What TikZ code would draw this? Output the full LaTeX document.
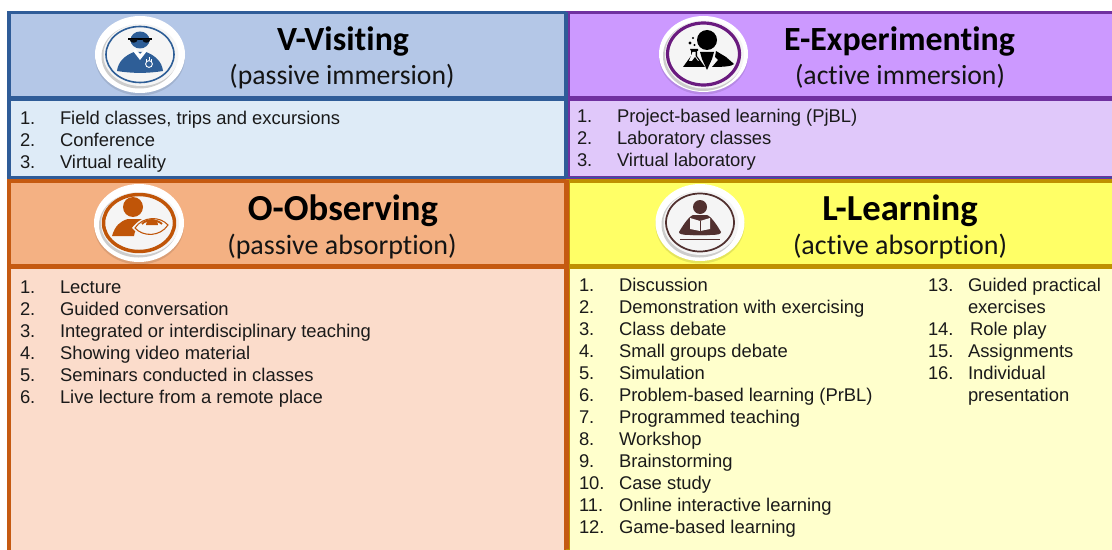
\documentclass[tikz,border=0pt]{standalone}
\usepackage{fontspec}
\setmainfont{Liberation Sans}
\newfontfamily\titlefont[Ligatures=NoCommon]{Carlito}
\definecolor{vhead}{HTML}{B4C7E7}\definecolor{vbody}{HTML}{DEEBF7}\definecolor{vline}{HTML}{2F5C98}
\definecolor{ehead}{HTML}{CC99FF}\definecolor{ebody}{HTML}{E0C8FA}\definecolor{eline}{HTML}{7030A0}
\definecolor{ohead}{HTML}{F4B183}\definecolor{obody}{HTML}{FBDCCB}\definecolor{oline}{HTML}{C55A11}
\definecolor{lhead}{HTML}{FFFF66}\definecolor{lbody}{HTML}{FFFFCC}\definecolor{lline}{HTML}{BF9000}
\definecolor{vink}{HTML}{2E5E97}\definecolor{eringc}{HTML}{6A1B7F}\definecolor{oink}{HTML}{C05508}\definecolor{link}{HTML}{51302F}
\definecolor{txt}{HTML}{1A1A1A}
\tikzset{
  panel/.style={line width=2.5pt,draw=#1},
  item/.style={anchor=base west,inner sep=0pt,outer sep=0pt,font=\fontsize{13.8pt}{16pt}\selectfont,text=txt},
  maintitle/.style={anchor=base,inner sep=0pt,font=\titlefont\bfseries\fontsize{25.4pt}{29pt}\selectfont,text=black},
  bigtitle/.style={anchor=base,inner sep=0pt,font=\titlefont\bfseries\fontsize{27.5pt}{31pt}\selectfont,text=black},
  subtitle/.style={anchor=base,inner sep=0pt,font=\titlefont\fontsize{20.8pt}{24pt}\selectfont,text=black!92},
  bigsub/.style={anchor=base,inner sep=0pt,font=\titlefont\fontsize{21pt}{24pt}\selectfont,text=black!92},
}
\newcommand{\iconbase}[8]{%
  \fill[black,opacity=.10] (#1,#2+2.5) ellipse [x radius=#3,y radius=#4];
  \fill[white] (#1,#2) ellipse [x radius=#3,y radius=#4];
  \fill[black!20] (#1-0.5,#2+2) ellipse [x radius=#5+4,y radius=#6+4];
  \fill[black!4] (#1+1,#2+0.5) ellipse [x radius=#5+3.5,y radius=#6+3];
  \fill[black!4,draw=#7,line width=#8] (#1,#2) ellipse [x radius=#5,y radius=#6];
}
\begin{document}
\begin{tikzpicture}[x=0.75pt,y=-0.75pt]
\useasboundingbox (0,0) rectangle (1112,549);
\fill[white] (0,0) rectangle (1112,549);
\clip (0,0) rectangle (1112,549);
% Panels
\filldraw[panel=vline,fill=vbody] (9,99) rectangle (566,178);
\filldraw[panel=vline,fill=vhead] (9,12.5) rectangle (566,98);
\filldraw[panel=eline,fill=ebody] (568,99) rectangle (1120,178);
\filldraw[panel=eline,fill=ehead] (568,12.5) rectangle (1120,98);
\draw[vline,line width=1.5pt] (567,12) -- (567,178);
\draw[vline,line width=1.2pt] (568,177.5) -- (1120,177.5);
\filldraw[panel=oline,fill=obody] (9,267) rectangle (566,560);
\filldraw[panel=oline,fill=ohead] (9,181) rectangle (566,266);
\filldraw[panel=lline,fill=lbody] (568,267) rectangle (1120,560);
\filldraw[panel=lline,fill=lhead] (568,181) rectangle (1120,266);
\draw[oline,line width=2.5pt] (567,180) -- (567,549);
% V icon
\iconbase{140}{54.5}{45}{38.5}{34}{28}{vink}{1.2pt}
\begin{scope}[shift={(140,54)}]
  \fill[vink] (0,-14) ellipse [x radius=9.5,y radius=8.5];
  \fill[vink] (-23,17) .. controls (-22,7) and (-14,1) .. (-6,-2) -- (6,-2) .. controls (14,1) and (22,7) .. (23,17) .. controls (8,19.5) and (-8,19.5) .. (-23,17) -- cycle;
  \fill[white] (-7,-3) -- (0,6) -- (7,-3) -- (5,-5) -- (0,0) -- (-5,-5) -- cycle;
  \draw[black,line width=.9pt] (-12,-15) -- (12,-15);
  \fill[black!85!vink] (-10.5,-15) .. controls (-10,-10) and (-3,-10) .. (-2,-15) -- cycle (2,-15) .. controls (3,-10) and (10,-10) .. (10.5,-15) -- cycle;
  \draw[white,line width=.7pt] (9,10) circle [radius=3.4];
  \draw[white,line width=.6pt] (6.5,7.5) -- (6.5,5) (9,6) -- (9,3.5) (11.5,7.5) -- (11.5,5);
\end{scope}
% E icon
\iconbase{703.5}{54}{44.5}{38}{36}{31}{eringc}{2.4pt}
\begin{scope}[shift={(704,54)}]
  \fill[black] (3,-14) circle [radius=10];
  \fill[black] (-4,-2) -- (10,-2) -- (8,5) -- (3,16) -- (-2,5) -- cycle;
  \fill[black] (12,-3) -- (22,3) -- (30,10) .. controls (28,12) and (22,13) .. (8,13) -- (14,6) -- (11,3) -- cycle;
  \fill[black] (-14,-5) -- (-6,-5) -- (-6,-3) -- (-7,-3) -- (-7,2) -- (1,13) -- (-21,13) -- (-13,2) -- (-13,-3) -- cycle;
  \fill[black!4] (-11.5,-2) -- (-8.5,-2) -- (-8.5,2) -- (-5,7) -- (-15,7) -- cycle;
  \fill[black] (-9,3) -- (-6,7) -- (-12,7) -- cycle;
  \fill[black] (-14,-11) circle [radius=1.6] (-11,-16) circle [radius=1.2] (-9.5,-9) circle [radius=1.2];
\end{scope}
% O icon
\iconbase{139}{223}{45}{39}{35.5}{28.5}{oink}{2.6pt}
\begin{scope}[shift={(141,222)}]
  \fill[oink] (-8,-15) circle [radius=10];
  \fill[oink] (-29,14) .. controls (-26,4) and (-21,-1) .. (-13,-3) -- (-3,-3) .. controls (3,-2) and (9,-3) .. (12,-4) .. controls (2,-1) and (-6,5) .. (-7,14) -- cycle;
  \fill[black!4] (-9,6) .. controls (2,-9) and (20,-8) .. (30,3) .. controls (20,18) and (2,18) .. (-9,6) -- cycle;
  \draw[oink,line width=.8pt] (-6,6) .. controls (2,-6) and (19,-6) .. (27,3) .. controls (19,15) and (2,15) .. (-6,6) -- cycle;
  \draw[oink,line width=1.4pt] (1,2) .. controls (5,-3) and (16,-3) .. (21,2);
  \fill[oink] (5,3) arc [start angle=180,end angle=360,radius=6] -- cycle;
\end{scope}
% L icon
\iconbase{700}{222.5}{44.5}{38.5}{34}{29}{link}{1.3pt}
\begin{scope}[shift={(700,222)}]
  \fill[link] (0,-15) circle [radius=7];
  \fill[link] (-7,-7) -- (7,-7) .. controls (12,-5) and (18,5) .. (21,10) .. controls (21,12) and (18,13) .. (10,13) -- (-10,13) .. controls (-18,13) and (-21,12) .. (-21,10) .. controls (-18,5) and (-12,-5) .. (-7,-7) -- cycle;
  \fill[black!4] (-10,-4) -- (0,-1) -- (10,-4) -- (10,7) -- (0,9) -- (-10,7) -- cycle;
  \fill[link] (-0.4,-1) rectangle (0.4,9);
  \fill[link] (-7,13) -- (7,13) -- (7,8) -- (0,10) -- (-7,8) -- cycle;
  \fill[link] (-20,16.5) rectangle (20,18);
\end{scope}
% Titles
\node[maintitle] (vt) at (343,51) {V-Visiting};
\node[subtitle] (vs) at (342,85) {(passive immersion)};
\node[maintitle] (et) at (899.5,51) {E-Experimenting};
\node[subtitle] (es) at (900,85) {(active immersion)};
\node[bigtitle] (ot) at (343,220) {O-Observing};
\node[bigsub] (os) at (342,254) {(passive absorption)};
\node[bigtitle] (lt) at (900,220) {L-Learning};
\node[bigsub] (ls) at (900,254) {(active absorption)};
% Lists
\foreach \n/\y/\t in {1/124.6/{Field classes, trips and excursions},2/146.6/Conference,3/168.6/Virtual reality}{
  \node[item] (vn\n) at (20,\y) {\n.};
  \node[item] (vi\n) at (60,\y) {\t};
}
\foreach \n/\y/\t in {1/122.6/{Project-based learning (PjBL)},2/144.6/Laboratory classes,3/166.6/Virtual laboratory}{
  \node[item] (en\n) at (577,\y) {\n.};
  \node[item] (ei\n) at (617,\y) {\t};
}
\foreach \n/\y/\t in {1/293.6/Lecture,2/315.6/Guided conversation,3/337.6/Integrated or interdisciplinary teaching,4/359.6/Showing video material,5/381.6/Seminars conducted in classes,6/403.6/Live lecture from a remote place}{
  \node[item] (on\n) at (20,\y) {\n.};
  \node[item] (oi\n) at (60,\y) {\t};
}
\foreach \n/\y/\t in {1/291.6/Discussion,2/313.6/Demonstration with exercising,3/335.6/Class debate,4/357.6/Small groups debate,5/379.6/Simulation,6/401.6/Problem-based learning (PrBL),7/423.6/Programmed teaching,8/445.6/Workshop,9/467.6/Brainstorming,10/489.6/Case study,11/511.6/Online interactive learning,12/533.6/Game-based learning}{
  \node[item] (ln\n) at (579,\y) {\n.};
  \node[item] (li\n) at (619,\y) {\t};
}
\node[item] (ln13) at (928,291.6) {13.};
\node[item] (li13) at (968,291.6) {Guided practical};
\node[item] (li13b) at (968,313.6) {exercises};
\node[item] (ln14) at (928,335.6) {14.};
\node[item] (li14) at (970,335.6) {Role play};
\node[item] (ln15) at (928,357.6) {15.};
\node[item] (li15) at (968,357.6) {Assignments};
\node[item] (ln16) at (928,379.6) {16.};
\node[item] (li16) at (968,379.6) {Individual};
\node[item] (li16b) at (968,401.6) {presentation};
\end{tikzpicture}
\end{document}
